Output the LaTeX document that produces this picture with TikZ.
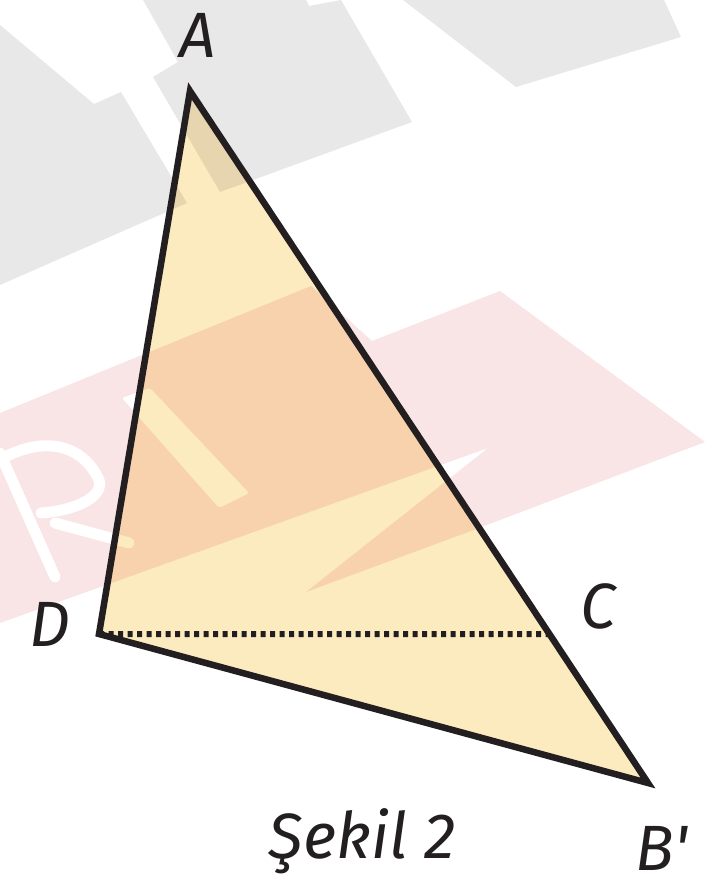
\documentclass[tikz,border=0pt]{standalone}
\usepackage{fontspec}
\setmainfont{Fira Sans}
\usepackage{tikz}
\usepackage{xcolor}
\usetikzlibrary{calc}

\definecolor{wmgray}{HTML}{E8E8E8}
\definecolor{wmpink}{HTML}{F9E4E6}
\definecolor{trifill}{HTML}{FDEBC0}
\definecolor{ink}{HTML}{231F20}

\tikzset{
  lbl/.style={font=\fontsize{64}{70}\selectfont\itshape, text=ink, anchor=base, inner sep=0pt},
  tri/.style={draw=ink, line width=6.5pt, line join=miter},
  dotline/.style={draw=ink, line width=6pt, dash pattern=on 5pt off 4.5pt}
}

\begin{document}
\begin{tikzpicture}[x=1pt, y=-1pt]
  \useasboundingbox (0,0) rectangle (712,885);
  % watermark in the back
  \fill[wmgray] (0,25) -- (94,104) -- (121,92) -- (187,203) -- (0,285) -- cycle;
  \fill[wmgray] (143,0) -- (306,0) -- (309,6) -- (341,0) -- (412,122) -- (220,192) -- (153,77) -- (178,62) -- cycle;
  \fill[wmgray] (403,0) -- (664,0) -- (681,37) -- (516,87) -- cycle;
  \fill[wmpink] (0,413) -- (311,286) -- (372,341) -- (500,291) -- (705,442) -- (479,528)
    -- (306,592) -- (488,448) -- (0,623) -- cycle;
  % letters cut out of the band
  \draw[white, line width=11pt, line cap=round, line join=round]
    (0,453) -- (55,577);
  \draw[white, line width=11pt, line cap=round, line join=round]
    (5,457) .. controls (46,436) and (83,445) .. (99,480) .. controls (104,495) and (80,510) .. (41,513);
  \draw[white, line width=11pt, line cap=round] (55,523) -- (129,543);
  \fill[white, rounded corners=2pt] (122,398) -- (150,388) -- (249,493) -- (219,508) -- cycle;
  % corners of the figure
  \coordinate (A) at (190,91);
  \coordinate (D) at (99,634);
  \coordinate (B) at (648,783);
  \path (A) -- (B) coordinate[pos=0.7847] (C);
  % the triangle
  \fill[trifill, blend mode=multiply] (A) -- (B) -- (D) -- cycle;
  \draw[dotline] (D) -- (C);
  \draw[tri] (A) -- (B) -- (D) -- cycle;
  % labels
  \node[lbl] (labA) at (198,58) {A};
  \node[lbl] (labD) at (50,646) {D};
  \node[lbl] (labC) at (598,628) {C};
  \node[lbl] (labB) at (662,870) {B\textquotesingle};
  \node[lbl] (cap) at (362,858) {Şekil 2};
\end{tikzpicture}
\end{document}
